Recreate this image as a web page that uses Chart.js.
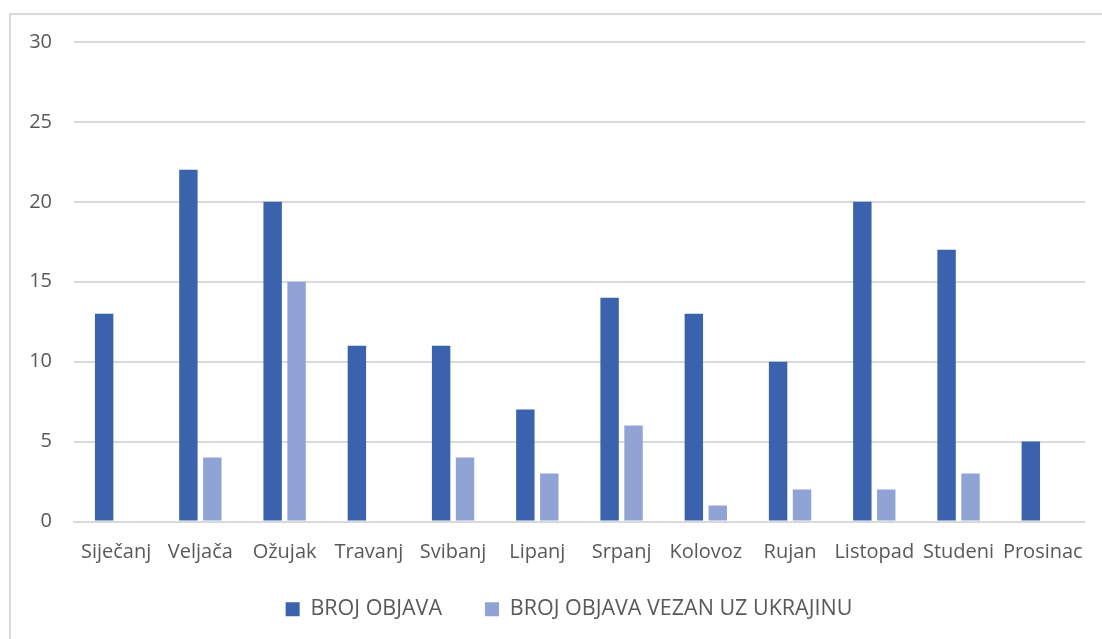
<!DOCTYPE html>
<html>
<head>
<meta charset="utf-8">
<script src="https://cdn.jsdelivr.net/npm/chart.js@4"></script>
<style>
  body { margin: 0; background: #fff; }
  #frame { position: absolute; left: 9px; top: 13px; width: 1100px; height: 640px;
           border-top: 2px solid #D9D9D9; border-left: 2px solid #D9D9D9; }
  #wrap { position: absolute; left: 0; top: 0; width: 1102px; height: 639px; }
</style>
</head>
<body>
<div id="frame"></div>
<div id="wrap"><canvas id="grafica"></canvas></div>
<script>
const mjeseci = ["Siječanj", "Veljača", "Ožujak", "Travanj", "Svibanj", "Lipanj",
  "Srpanj", "Kolovoz", "Rujan", "Listopad", "Studeni", "Prosinac"];
const brojObjava = [13, 22, 20, 11, 11, 7, 14, 13, 10, 20, 17, 5];
const brojUkrajina = [0, 4, 15, 0, 4, 3, 6, 1, 2, 2, 3, 0];
const yTicks = [0, 5, 10, 15, 20, 25, 30];

const font = "'Open Sans', sans-serif";

// legenda je u originalu malo desno i više
const pomakLegende = {
  id: "pomakLegende",
  afterLayout(chart) {
    const l = chart.legend;
    l.left += 22;
    l.right += 22;
    l.top -= 9;
    l.bottom -= 9;
  },
};

new Chart(document.getElementById("grafica"), {
  type: "bar",
  data: {
    labels: mjeseci,
    datasets: [
      { label: "BROJ OBJAVA", data: brojObjava, backgroundColor: "#3A62AD" },
      { label: "BROJ OBJAVA VEZAN UZ UKRAJINU", data: brojUkrajina, backgroundColor: "#8FA3D4" },
    ],
  },
  plugins: [pomakLegende],
  options: {
    responsive: true,
    maintainAspectRatio: false,
    animation: false,
    categoryPercentage: 0.568,
    barPercentage: 0.77,
    layout: { padding: { left: 0, right: 8, top: 42, bottom: 0 } },
    plugins: {
      tooltip: { enabled: false },
      legend: {
        position: "bottom",
        labels: {
          color: "#595959",
          font: { family: font, size: 21.5 },
          boxWidth: 14,
          boxHeight: 14,
          padding: 43,
        },
      },
    },
    scales: {
      x: {
        afterFit: (axis) => { axis.height = 43; },
        grid: { display: false, drawTicks: false },
        border: { display: true, color: "#D9D9D9", width: 2 },
        ticks: { color: "#595959", font: { family: font, size: 20 }, padding: 19, maxRotation: 0, autoSkip: false },
      },
      y: {
        min: 0,
        max: 30,
        afterBuildTicks: (axis) => { axis.ticks = yTicks.map((v) => ({ value: v })); },
        afterFit: (axis) => { axis.width = 74; },
        grid: { color: "#D9D9D9", lineWidth: 2, drawTicks: false },
        border: { display: false },
        ticks: { color: "#595959", font: { family: font, size: 20 }, padding: 22 },
      },
    },
  },
});
</script>
</body>
</html>
